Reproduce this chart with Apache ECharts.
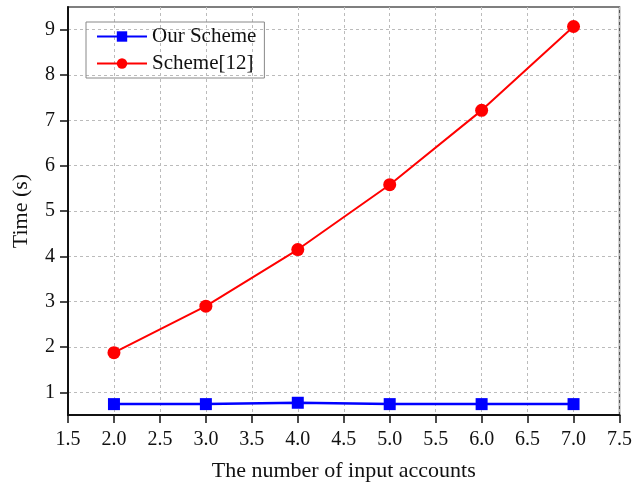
<!DOCTYPE html>
<html>
<head>
<meta charset="utf-8">
<script src="https://cdn.jsdelivr.net/npm/echarts@6/dist/echarts.min.js"></script>
<style>
  html, body { margin: 0; padding: 0; background: #fff; }
  #chart { width: 635px; height: 488px; }
</style>
</head>
<body>
<div id="chart"></div>
<script>
"use strict";
// data
var accounts = [2.0, 3.0, 4.0, 5.0, 6.0, 7.0];
var ourScheme = [0.74, 0.74, 0.77, 0.74, 0.74, 0.74];
var scheme12 = [1.875, 2.9, 4.15, 5.58, 7.22, 9.07];
var yTicks = [1, 2, 3, 4, 5, 6, 7, 8, 9];

var font = "'Liberation Serif', 'Times New Roman', serif";

function pairs(xs, ys) {
    return xs.map(function (x, i) { return [x, ys[i]]; });
}

var chart = echarts.init(document.getElementById("chart"));
var options = {
    animation: false,
    grid: {
        left: 68, right: 15, top: 7, bottom: 73,
        show: true, borderColor: "#555", borderWidth: 1.5
    },
    legend: {
        orient: "vertical",
        left: 86, top: 22,
        padding: [4, 8, 4, 10],
        itemGap: 6,
        itemWidth: 50, itemHeight: 13,
        borderColor: "#888", borderWidth: 1,
        textStyle: { fontFamily: font, fontSize: 21, color: "#111" },
        data: ["Our Scheme", "Scheme[12]"]
    },
    xAxis: {
        type: "value",
        min: 1.5, max: 7.5, interval: 0.5,
        name: "The number of input accounts",
        nameLocation: "middle", nameGap: 45,
        nameTextStyle: { fontFamily: font, fontSize: 22, color: "#111" },
        axisLine: { lineStyle: { color: "#111", width: 2 } },
        axisTick: { inside: false, length: 8, lineStyle: { color: "#111", width: 1.5 } },
        axisLabel: {
            fontFamily: font, fontSize: 20, color: "#111", margin: 15,
            formatter: function (v) { return v.toFixed(1); }
        },
        splitLine: { show: true, lineStyle: { color: "#bbb", type: [3, 3], width: 1 } }
    },
    yAxis: {
        type: "value",
        min: 0.5, max: 9.5,
        name: "Time (s)",
        nameLocation: "middle", nameGap: 36,
        nameTextStyle: { fontFamily: font, fontSize: 22, color: "#111" },
        axisLine: { show: true, lineStyle: { color: "#111", width: 2 } },
        axisTick: { show: true, length: 8, customValues: yTicks, lineStyle: { color: "#111", width: 1.5 } },
        axisLabel: { fontFamily: font, fontSize: 20, color: "#111", margin: 13, customValues: yTicks },
        splitLine: { show: true, lineStyle: { color: "#bbb", type: [3, 3], width: 1 } }
    },
    series: [{
        name: "Our Scheme",
        type: "line",
        data: pairs(accounts, ourScheme),
        symbol: "rect", symbolSize: 12,
        itemStyle: { color: "#0000ff" },
        lineStyle: { color: "#0000ff", width: 2.5 }
    }, {
        name: "Scheme[12]",
        type: "line",
        data: pairs(accounts, scheme12),
        symbol: "circle", symbolSize: 13,
        itemStyle: { color: "#ff0000" },
        lineStyle: { color: "#ff0000", width: 2 }
    }]
};
chart.setOption(options);
</script>
</body>
</html>
